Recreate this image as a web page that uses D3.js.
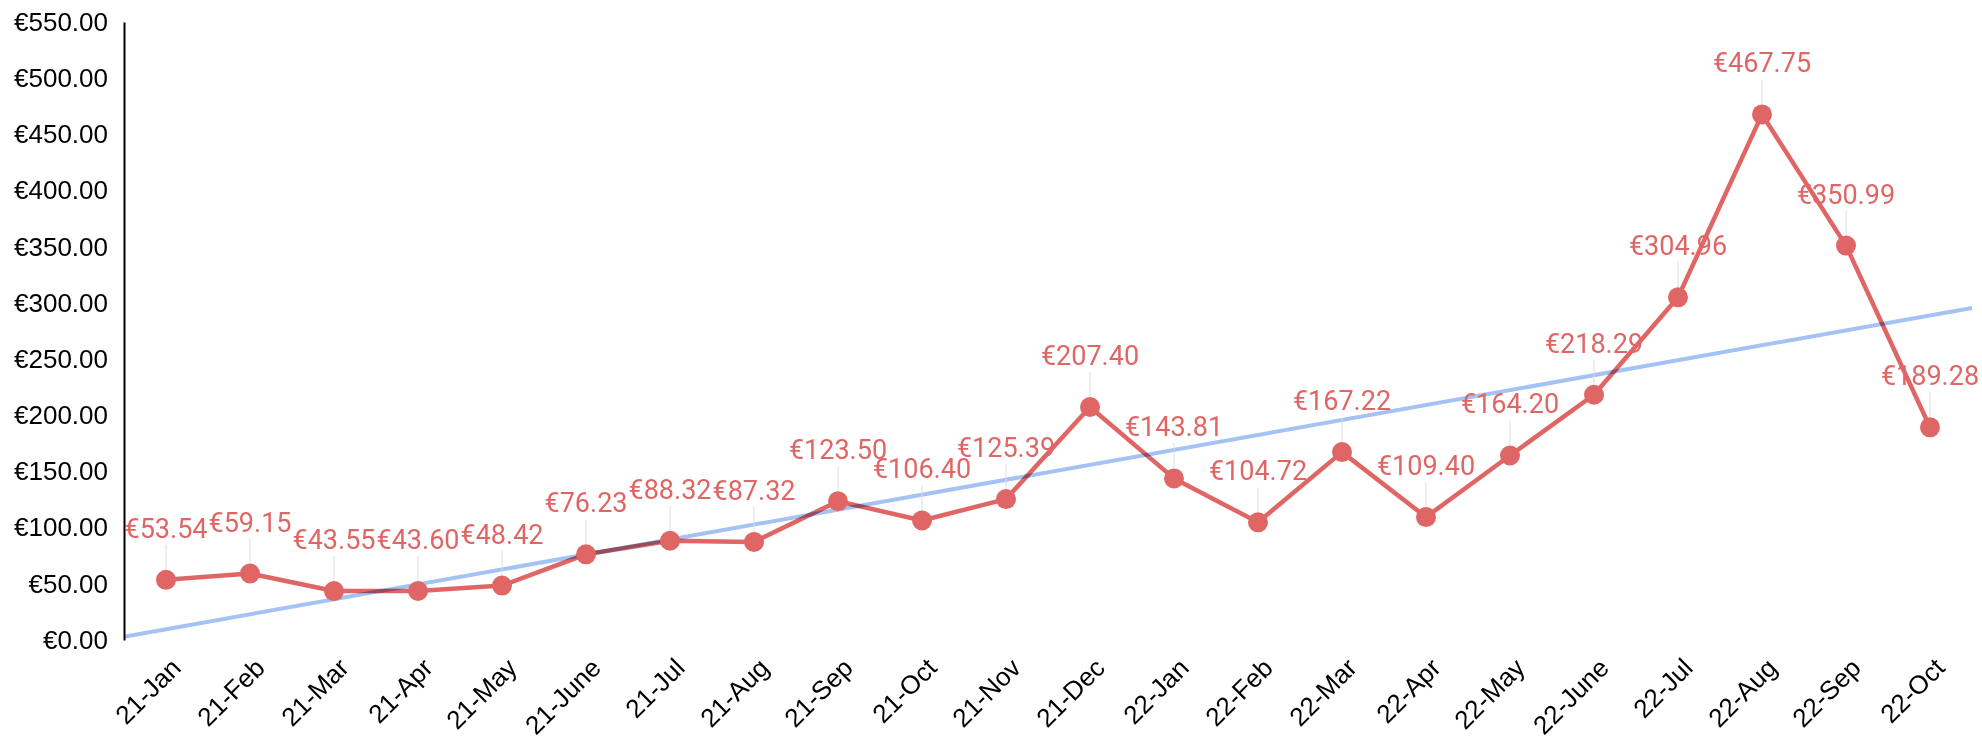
<!DOCTYPE html>
<html>
<head>
<meta charset="utf-8">
<script src="https://cdn.jsdelivr.net/npm/d3@7"></script>
<style>
  html, body { margin: 0; padding: 0; background: #fff; }
  svg { display: block; }
</style>
</head>
<body>
<div id="chart"></div>
<script>
// Data
const months = [
  "21-Jan", "21-Feb", "21-Mar", "21-Apr", "21-May", "21-June", "21-Jul", "21-Aug",
  "21-Sep", "21-Oct", "21-Nov", "21-Dec", "22-Jan", "22-Feb", "22-Mar", "22-Apr",
  "22-May", "22-June", "22-Jul", "22-Aug", "22-Sep", "22-Oct"
];
const values = [
  53.54, 59.15, 43.55, 43.60, 48.42, 76.23, 88.32, 87.32, 123.50, 106.40, 125.39,
  207.40, 143.81, 104.72, 167.22, 109.40, 164.20, 218.29, 304.96, 467.75, 350.99, 189.28
];
const yTicks = [0, 50, 100, 150, 200, 250, 300, 350, 400, 450, 500, 550];

// SVG variables
const chartWidth = 1982;
const chartHeight = 741;
const plotLeft = 124;
const plotRight = 1972;
const plotTop = 22;
const plotBottom = 640;
const red = "#e06666";
const fmt = (v) => "€" + v.toFixed(2);

const svg = d3.select("#chart")
  .append("svg")
  .attr("width", chartWidth)
  .attr("height", chartHeight);

// Scales
const xScale = d3.scaleBand().domain(months).range([plotLeft, plotRight]);
const yScale = d3.scaleLinear().domain([0, 550]).range([plotBottom, plotTop]);
const cx = (d, i) => xScale(months[i]) + xScale.bandwidth() / 2;

// Y axis
const yAxis = svg.append("g")
  .attr("transform", `translate(${plotLeft},0)`)
  .call(d3.axisLeft(yScale).tickValues(yTicks).tickFormat(fmt).tickSize(0).tickPadding(16));
yAxis.select(".domain").attr("stroke", "#000").attr("stroke-width", 2);
yAxis.selectAll(".tick text")
  .attr("font-family", "Liberation Sans, Arial, sans-serif")
  .attr("font-size", 26)
  .attr("fill", "#000");

// X axis
const xAxis = svg.append("g")
  .attr("transform", `translate(0,${plotBottom})`)
  .call(d3.axisBottom(xScale).tickSize(0));
xAxis.select(".domain").remove();
xAxis.selectAll(".tick text")
  .attr("font-family", "Liberation Sans, Arial, sans-serif")
  .attr("font-size", 26)
  .attr("fill", "#000")
  .attr("text-anchor", "end")
  .attr("dy", "0.35em")
  .attr("y", 0)
  .attr("transform", "translate(10,23) rotate(-45)");

// Trend line (least squares over the series)
const xMean = d3.mean(values, (d, i) => i);
const yMean = d3.mean(values);
const slope = d3.sum(values, (d, i) => (i - xMean) * (d - yMean)) /
  d3.sum(values, (d, i) => (i - xMean) ** 2);
const intercept = yMean - slope * xMean;
const step = xScale.step();
const trendAt = (px) => intercept + slope * ((px - (plotLeft + step / 2)) / step);

// Series line
const line = d3.line().x(cx).y((d) => yScale(d));
svg.append("path")
  .datum(values)
  .attr("fill", "none")
  .attr("stroke", red)
  .attr("stroke-width", 4.5)
  .attr("stroke-linejoin", "round")
  .attr("d", line);

svg.append("line")
  .attr("x1", plotLeft).attr("y1", yScale(trendAt(plotLeft)))
  .attr("x2", plotRight).attr("y2", yScale(trendAt(plotRight)))
  .attr("stroke", "#a4c2f4")
  .attr("stroke-width", 4)
  .style("mix-blend-mode", "multiply");

// Leader lines
svg.append("g")
  .selectAll("line")
  .data(values)
  .enter()
  .append("line")
  .attr("x1", cx).attr("x2", cx)
  .attr("y1", (d) => yScale(d) - 35)
  .attr("y2", (d) => yScale(d) - 10)
  .attr("stroke", "#dddddd")
  .attr("stroke-width", 1);

// Points
svg.append("g")
  .selectAll("circle")
  .data(values)
  .enter()
  .append("circle")
  .attr("cx", cx)
  .attr("cy", (d) => yScale(d))
  .attr("r", 10)
  .attr("fill", red);

// Data labels
svg.append("g")
  .selectAll("text")
  .data(values)
  .enter()
  .append("text")
  .attr("x", cx)
  .attr("y", (d) => yScale(d) - 42)
  .attr("text-anchor", "middle")
  .attr("font-family", "Roboto, sans-serif")
  .attr("font-size", 27)
  .attr("fill", red)
  .text(fmt);
</script>
</body>
</html>
